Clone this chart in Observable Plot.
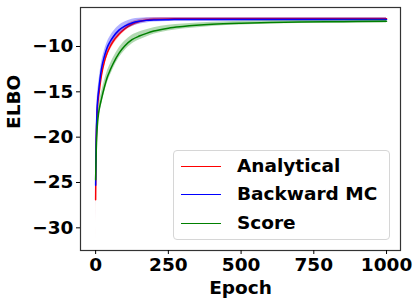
<!DOCTYPE html>
<html>
<head>
<meta charset="utf-8">
<script src="https://cdn.jsdelivr.net/npm/d3@7"></script>
<script src="https://cdn.jsdelivr.net/npm/@observablehq/plot@0.6"></script>
<style>
  html, body { margin: 0; padding: 0; background: #fff; }
  #wrap { position: relative; width: 419px; height: 308px; font-family: "DejaVu Sans", sans-serif; }
  #wrap svg text { font-size: 18.5px !important; font-weight: bold !important; fill: #000; }
  #legend { position: absolute; left: 173px; top: 150px; width: 217px; height: 90px;
    border: 1px solid #d6d6d6; border-radius: 4px; background: rgba(255,255,255,0.85); box-sizing: border-box; }
  .row { position: absolute; left: 0; height: 22px; }
  .sw { position: absolute; left: 7px; width: 40px; height: 0; border-top: 1.3px solid; top: 11px; }
  .lab { position: absolute; left: 63px; top: 0; line-height: 22px; font-size: 18.5px; font-weight: bold; white-space: nowrap; color: #000; }
</style>
</head>
<body>
<div id="wrap"></div>
<script>
const epochs = [0,1,2,3,5,7,10,15,20,30,40,50,60,80,100,125,150,175,200,250,300,400,500,600,700,800,900,1000];

const seriesNames = ["Analytical", "Backward MC", "Score"];
const seriesColors = ["#ff0000", "#0000ff", "#008000"];

const analyticalMean = [-26.9,-23.0,-20.8,-19.3,-17.5,-16.4,-15.6,-14.3,-13.2,-11.7,-10.7,-10.0,-9.45,-8.65,-8.05,-7.55,-7.25,-7.08,-7.0,-6.96,-6.95,-6.94,-6.94,-6.93,-6.93,-6.93,-6.93,-6.93];
const analyticalStd  = [4.5,1.6,1.2,1.0,0.9,0.8,0.7,0.6,0.55,0.5,0.45,0.42,0.4,0.35,0.3,0.27,0.23,0.2,0.17,0.15,0.14,0.14,0.14,0.14,0.14,0.14,0.14,0.14];

const backwardMean = [-25.3,-22.3,-20.3,-18.9,-17.0,-15.9,-15.0,-13.6,-12.5,-11.1,-10.1,-9.45,-8.95,-8.2,-7.75,-7.4,-7.22,-7.12,-7.07,-7.04,-7.03,-7.03,-7.03,-7.03,-7.03,-7.03,-7.03,-7.03];
const backwardStd  = [3.7,1.8,1.4,1.2,1.0,0.9,0.8,0.7,0.65,0.6,0.58,0.56,0.55,0.5,0.45,0.4,0.33,0.28,0.24,0.21,0.2,0.2,0.2,0.2,0.2,0.2,0.2,0.2];

const scoreMean = [-24.7,-23.0,-21.6,-20.6,-19.2,-18.3,-17.4,-16.5,-15.8,-14.5,-13.4,-12.6,-11.9,-10.75,-9.95,-9.25,-8.85,-8.55,-8.3,-7.98,-7.8,-7.56,-7.43,-7.35,-7.3,-7.27,-7.25,-7.23];
const scoreStd  = [1.2,1.0,0.9,0.85,0.8,0.75,0.7,0.7,0.7,0.68,0.65,0.62,0.6,0.56,0.52,0.48,0.44,0.4,0.36,0.32,0.28,0.23,0.2,0.18,0.17,0.17,0.17,0.17];

const xTicks = [0, 250, 500, 750, 1000];
const yTicks = [-30, -25, -20, -15, -10];

const means = [analyticalMean, backwardMean, scoreMean];
const stds = [analyticalStd, backwardStd, scoreStd];

const rows = [];
seriesNames.forEach((name, s) => {
  epochs.forEach((e, i) => {
    rows.push({series: name, epoch: e, mean: means[s][i], lo: means[s][i] - stds[s][i], hi: means[s][i] + stds[s][i]});
  });
});

const colorOf = Object.fromEntries(seriesNames.map((n, i) => [n, seriesColors[i]]));

const marks = [];
seriesNames.forEach(name => {
  const d = rows.filter(r => r.series === name);
  marks.push(Plot.areaY(d, {x: "epoch", y1: "lo", y2: "hi", fill: colorOf[name], fillOpacity: 0.3, curve: "monotone-x"}));
  marks.push(Plot.lineY(d, {x: "epoch", y: "mean", stroke: colorOf[name], strokeWidth: 1.5, curve: "monotone-x"}));
});

const chart = Plot.plot({
  width: 419,
  height: 308,
  marginLeft: 80,
  marginRight: 19,
  marginTop: 7,
  marginBottom: 58,
  style: {fontFamily: "DejaVu Sans", fontSize: "18.5px", fontWeight: "bold", color: "#000", background: "#fff"},
  x: {domain: [-52, 1048]},
  y: {domain: [-32.5, -5.7]},
  marks: [
    ...marks,
    Plot.frame({stroke: "#333", strokeWidth: 1.2}),
    Plot.axisX({ticks: xTicks, tickFormat: d => String(d), tickSize: 4, tickPadding: 3, label: null}),
    Plot.axisY({ticks: yTicks, tickSize: 4, tickPadding: 3, label: null}),
    Plot.text(["Epoch"], {frameAnchor: "bottom", dy: 43, fill: "#000"}),
    Plot.text(["ELBO"], {frameAnchor: "left", dx: -66, rotate: -90, fill: "#000"})
  ]
});

const wrap = document.getElementById("wrap");
wrap.appendChild(chart);

const legend = document.createElement("div");
legend.id = "legend";
seriesNames.forEach((name, i) => {
  const row = document.createElement("div");
  row.className = "row";
  row.style.top = (4 + i * 28.3) + "px";
  row.style.width = "100%";
  const sw = document.createElement("div");
  sw.className = "sw";
  sw.style.borderTopColor = seriesColors[i];
  const lab = document.createElement("div");
  lab.className = "lab";
  lab.textContent = name;
  row.appendChild(sw);
  row.appendChild(lab);
  legend.appendChild(row);
});
wrap.appendChild(legend);
</script>
</body>
</html>
